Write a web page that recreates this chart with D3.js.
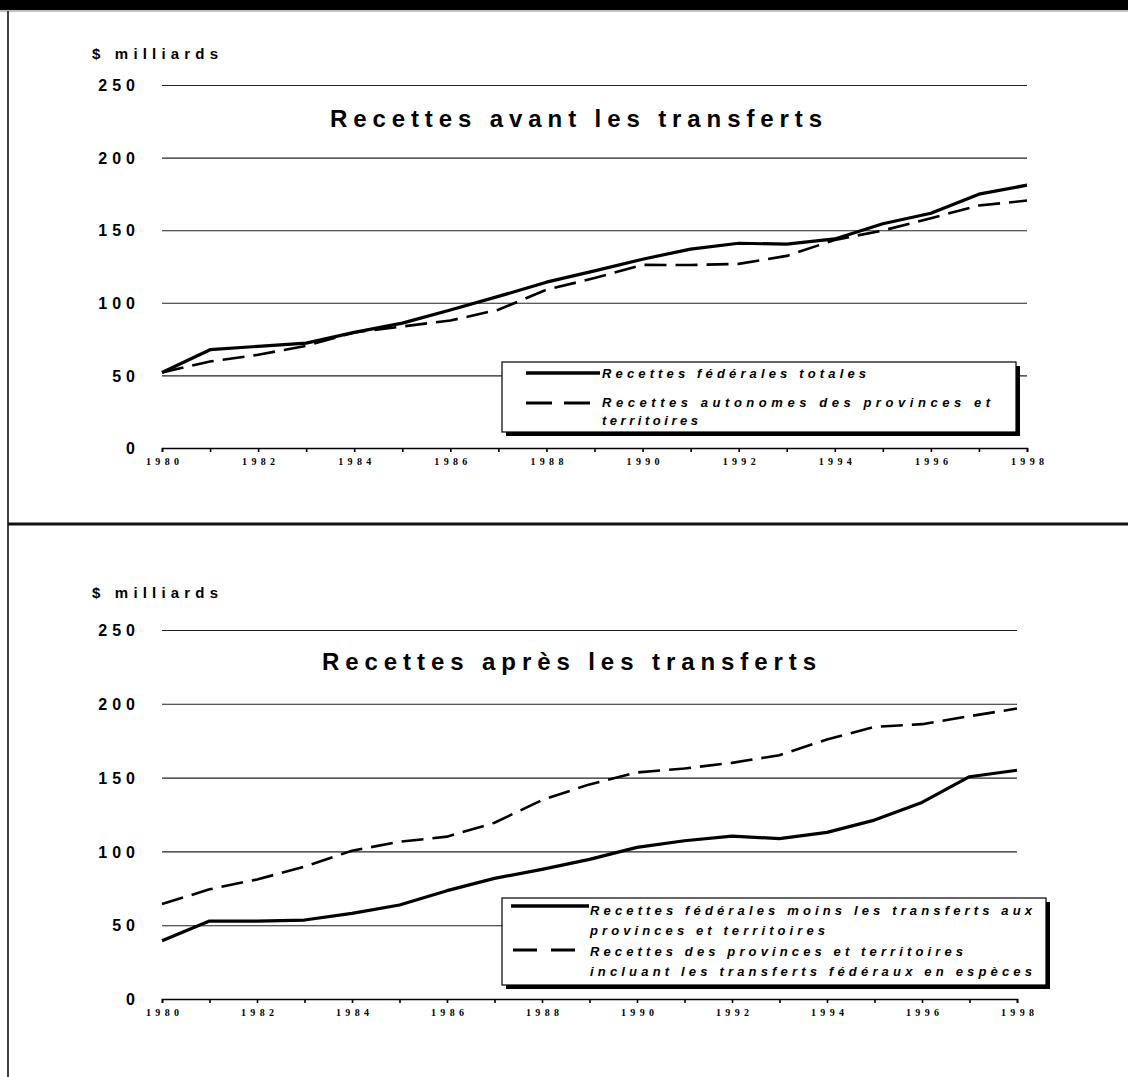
<!DOCTYPE html>
<html>
<head>
<meta charset="utf-8">
<script src="https://cdn.jsdelivr.net/npm/d3@7"></script>
<style>
  body { margin: 0; background: #fff; }
  svg { display: block; }
</style>
</head>
<body>
<div id="chart"></div>
<script>
// Data ($ billions)
var years = [1980, 1981, 1982, 1983, 1984, 1985, 1986, 1987, 1988, 1989,
             1990, 1991, 1992, 1993, 1994, 1995, 1996, 1997, 1998];
var evenYears = [1980, 1982, 1984, 1986, 1988, 1990, 1992, 1994, 1996, 1998];
var yTicks = [0, 50, 100, 150, 200, 250];

// top panel: before transfers
var fedTotal = [52, 67.7, 70, 72.2, 79.6, 86, 95, 104.4, 114.2, 122,
                130, 137, 141, 140.4, 144, 154.4, 161.7, 174.8, 181];
var provOwn = [52, 59.6, 64.2, 70.4, 79.6, 83.7, 87.8, 95.2, 109, 117,
               126.1, 126, 126.8, 132.3, 143.3, 149.8, 158.3, 167, 170.4];

// bottom panel: after transfers
var fedNet = [39.5, 52.8, 52.8, 53.5, 58, 63.7, 73.4, 81.7, 87.8, 94.6,
              102.7, 107.2, 110.4, 108.6, 112.9, 121.2, 133.2, 150.6, 155];
var provWithTransfers = [64.3, 74.3, 81, 89.6, 100.5, 106.5, 110, 119.4, 134.8, 145.4,
                         153.5, 156.2, 160, 165.2, 175.8, 184.4, 186.2, 191.6, 196.8];

var svgWidth = 1128;
var svgHeight = 1077;
var sans = "'Liberation Sans', Arial, sans-serif";
var serif = "'Liberation Serif', 'Times New Roman', serif";

var svg = d3.select("#chart")
  .append("svg")
  .attr("width", svgWidth)
  .attr("height", svgHeight);

// page frame
svg.append("rect").attr("x", 0).attr("y", 0).attr("width", svgWidth).attr("height", 10).attr("fill", "#000");
svg.append("line").attr("x1", 0).attr("x2", svgWidth).attr("y1", 11).attr("y2", 11)
  .attr("stroke", "#888").attr("stroke-width", 1.2);
svg.append("line").attr("x1", 8).attr("x2", 8).attr("y1", 11).attr("y2", svgHeight)
  .attr("stroke", "#111").attr("stroke-width", 1.6);
svg.append("line").attr("x1", 8).attr("x2", svgWidth).attr("y1", 524).attr("y2", 524)
  .attr("stroke", "#111").attr("stroke-width", 3.2);

function drawPanel(p) {
  var x = d3.scaleLinear().domain([1980, 1998]).range([p.left, p.right]);
  var y = d3.scaleLinear().domain([0, 250]).range([p.bottom, p.top]);

  var g = svg.append("g");

  // unit label
  g.append("text")
    .attr("x", 92)
    .attr("y", p.unitY)
    .attr("textLength", 126)
    .attr("lengthAdjust", "spacing")
    .style("font-family", sans)
    .style("font-weight", "bold")
    .style("font-size", "15px")
    .text("$ milliards");

  // gridlines + y labels
  var yAxis = d3.axisLeft(y)
    .tickValues(yTicks)
    .tickSize(-(p.right - p.left))
    .tickPadding(p.left - 140);

  var yg = g.append("g")
    .attr("transform", `translate(${p.left},0)`)
    .call(yAxis);
  yg.select(".domain").remove();
  yg.selectAll(".tick line").attr("stroke", "#222").attr("stroke-width", 1.1);
  yg.selectAll(".tick text")
    .attr("fill", "#000")
    .attr("dy", "0.36em")
    .style("font-family", sans)
    .style("font-weight", "bold")
    .style("font-size", "16px")
    .style("letter-spacing", "5px");

  // x axis
  var xAxis = d3.axisBottom(x)
    .tickValues(years)
    .tickSize(4)
    .tickPadding(6)
    .tickFormat(d => evenYears.indexOf(d) >= 0 ? String(d) : "");

  var xg = g.append("g")
    .attr("transform", `translate(0,${p.bottom})`)
    .call(xAxis);
  xg.select(".domain").attr("stroke", "#000").attr("stroke-width", 1.6);
  xg.selectAll(".tick line").attr("stroke", "#000").attr("stroke-width", 1.6);
  xg.selectAll(".tick text")
    .filter(d => evenYears.indexOf(d) >= 0)
    .attr("fill", "#000")
    .attr("textLength", 33)
    .attr("lengthAdjust", "spacing")
    .style("font-family", serif)
    .style("font-weight", "bold")
    .style("font-size", "10px");

  // title
  g.append("text")
    .attr("x", p.titleX)
    .attr("y", p.titleY)
    .attr("textLength", p.titleLen)
    .attr("lengthAdjust", "spacing")
    .style("font-family", sans)
    .style("font-weight", "bold")
    .style("font-size", "24px")
    .text(p.title);

  // series lines
  var line = d3.line()
    .x((d, i) => x(years[i]))
    .y(d => y(d));

  g.append("path")
    .datum(p.dashed)
    .attr("d", line)
    .attr("fill", "none")
    .attr("stroke", "#000")
    .attr("stroke-width", 2.6)
    .attr("stroke-dasharray", "22,9");

  g.append("path")
    .datum(p.solid)
    .attr("d", line)
    .attr("fill", "none")
    .attr("stroke", "#000")
    .attr("stroke-width", 3.2)
    .attr("stroke-linejoin", "round");

  // legend
  var L = p.legend;
  var lg = g.append("g");
  lg.append("rect")
    .attr("x", L.x + 4).attr("y", L.y + 4)
    .attr("width", L.w).attr("height", L.h)
    .attr("fill", "#000");
  lg.append("rect")
    .attr("x", L.x).attr("y", L.y)
    .attr("width", L.w).attr("height", L.h)
    .attr("fill", "#fff")
    .attr("stroke", "#000")
    .attr("stroke-width", 1.2);

  lg.append("line")
    .attr("x1", L.solidLine[0]).attr("x2", L.solidLine[1])
    .attr("y1", L.solidLine[2]).attr("y2", L.solidLine[2])
    .attr("stroke", "#000").attr("stroke-width", 3.4);
  lg.append("line")
    .attr("x1", L.dashLine[0]).attr("x2", L.dashLine[1])
    .attr("y1", L.dashLine[2]).attr("y2", L.dashLine[2])
    .attr("stroke", "#000").attr("stroke-width", 3)
    .attr("stroke-dasharray", L.dashPattern);

  L.texts.forEach(function(t) {
    lg.append("text")
      .attr("x", L.textX)
      .attr("y", t.y)
      .attr("textLength", t.len)
      .attr("lengthAdjust", "spacing")
      .style("font-family", sans)
      .style("font-weight", "bold")
      .style("font-style", "italic")
      .style("font-size", "13px")
      .text(t.label);
  });
}

drawPanel({
  left: 162, right: 1027, top: 85, bottom: 448,
  unitY: 59,
  title: "Recettes avant les transferts",
  titleX: 330, titleY: 127, titleLen: 492,
  solid: fedTotal,
  dashed: provOwn,
  legend: {
    x: 502, y: 362, w: 514, h: 70,
    solidLine: [526, 600, 373],
    dashLine: [526, 590, 403],
    dashPattern: "26,12",
    textX: 602,
    texts: [
      { label: "Recettes fédérales totales", y: 378, len: 264 },
      { label: "Recettes autonomes des provinces et", y: 407, len: 388 },
      { label: "territoires", y: 425, len: 96 }
    ]
  }
});

drawPanel({
  left: 162, right: 1017, top: 630, bottom: 999,
  unitY: 598,
  title: "Recettes après les transferts",
  titleX: 322, titleY: 670, titleLen: 494,
  solid: fedNet,
  dashed: provWithTransfers,
  legend: {
    x: 502, y: 898, w: 544, h: 87,
    solidLine: [511, 589, 906],
    dashLine: [513, 576, 950],
    dashPattern: "24,14",
    textX: 590,
    texts: [
      { label: "Recettes fédérales moins les transferts aux", y: 915, len: 442 },
      { label: "provinces et territoires", y: 935, len: 235 },
      { label: "Recettes des provinces et territoires", y: 956, len: 373 },
      { label: "incluant les transferts fédéraux en espèces", y: 976, len: 442 }
    ]
  }
});
</script>
</body>
</html>
